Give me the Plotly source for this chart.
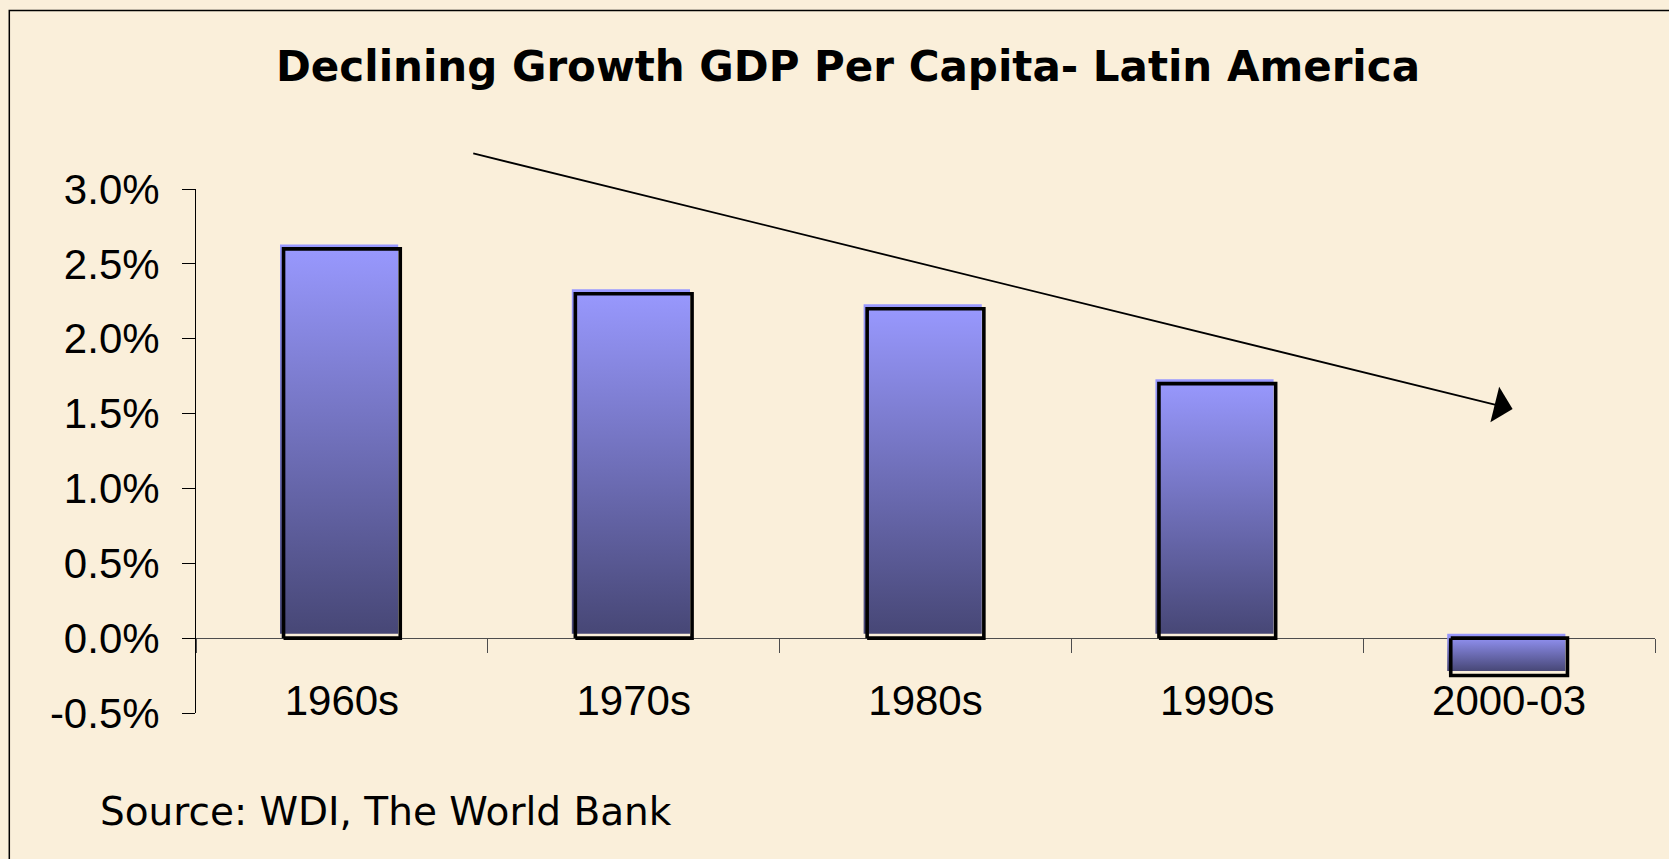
import plotly.graph_objects as go

# Average annual growth of GDP per capita, Latin America (percent)
periods = ["1960s", "1970s", "1980s", "1990s", "2000-03"]
growth = [2.6, 2.3, 2.2, 1.7, -0.25]

y_ticks = [-0.5, 0.0, 0.5, 1.0, 1.5, 2.0, 2.5, 3.0]
y_tick_labels = ["-0.5%", "0.0%", "0.5%", "1.0%", "1.5%", "2.0%", "2.5%", "3.0%"]

W, H = 1669, 859
M_L, M_R, M_T, M_B = 196, 14, 189, 146
Y_MIN, Y_MAX = -0.5, 3.0

BG = "#FAEFDA"
BAR_WIDTH = 0.40        # outline width in category units
FILL_WIDTH = 0.405      # gradient body width
FILL_DX = -0.0096       # gradient body sits slightly up and to the left
FILL_DY = 0.03

fig = go.Figure()

# Gradient bodies of the columns
for i, v in enumerate(growth):
    cx = i + FILL_DX
    x0, x1 = cx - FILL_WIDTH / 2, cx + FILL_WIDTH / 2
    y0, y1 = 0 + FILL_DY, v + FILL_DY
    fig.add_trace(go.Scatter(
        x=[x0, x1, x1, x0, x0],
        y=[y0, y0, y1, y1, y0],
        mode="lines",
        line=dict(width=0),
        fill="toself",
        fillgradient=dict(type="vertical",
                          colorscale=[[0, "#474776"], [1, "#9999FF"]]),
        hoverinfo="skip",
        showlegend=False,
    ))

# Black outlines of the columns, drawn on top of the bodies
ox, oy = [], []
for i, v in enumerate(growth):
    x0, x1 = i - BAR_WIDTH / 2, i + BAR_WIDTH / 2
    ox += [x0, x1, x1, x0, x0, None]
    oy += [0, 0, v, v, 0, None]
fig.add_trace(go.Scatter(
    x=ox, y=oy, mode="lines",
    line=dict(color="black", width=3.6),
    hoverinfo="skip", showlegend=False,
))

fig.update_layout(
    width=W, height=H,
    margin=dict(l=M_L, r=M_R, t=M_T, b=M_B, autoexpand=False),
    paper_bgcolor=BG, plot_bgcolor=BG,
    showlegend=False,
    title=dict(
        text="<b>Declining Growth GDP Per Capita- Latin America</b>",
        font=dict(family="DejaVu Sans", size=42, color="black"),
        x=848 / W, xanchor="center", xref="container",
        y=1 - 66 / H, yanchor="middle", yref="container",
    ),
    xaxis=dict(
        range=[-0.5, len(periods) - 0.5],
        tickmode="array", tickvals=list(range(len(periods))), ticktext=periods,
        ticks="", showgrid=False, zeroline=False,
        showline=True, linecolor="#4d4d4d", linewidth=1,
        anchor="free", position=(0 - Y_MIN) / (Y_MAX - Y_MIN),
        tickfont=dict(family="Liberation Sans", size=42, color="black"),
        ticklabelstandoff=25,
        minor=dict(ticks="outside", tick0=-0.5, dtick=1, ticklen=14,
                   tickwidth=1, tickcolor="#4d4d4d", showgrid=False),
        layer="below traces",
        fixedrange=True,
    ),
    yaxis=dict(
        range=[Y_MIN, Y_MAX],
        tickmode="array", tickvals=y_ticks, ticktext=y_tick_labels,
        ticks="outside", ticklen=13, tickwidth=1, tickcolor="black",
        showline=True, linecolor="black", linewidth=1,
        showgrid=False, zeroline=False,
        tickfont=dict(family="Liberation Sans", size=42, color="black"),
        ticklabelstandoff=14,
        fixedrange=True,
    ),
)

# Downward trend arrow
fig.add_annotation(
    x=4.012, y=1.531, xref="x", yref="y",
    ax=0.445, ay=3.24, axref="x", ayref="y",
    text="", showarrow=True,
    arrowhead=1, arrowsize=3.4, arrowwidth=1.8, arrowcolor="black",
)

# Source note
plot_w = W - M_L - M_R
plot_h = H - M_T - M_B
fig.add_annotation(
    x=(98 - M_L) / plot_w, y=(H - M_B - 811) / plot_h,
    xref="paper", yref="paper", xanchor="left", yanchor="middle",
    text="Source: WDI, The World Bank", showarrow=False,
    font=dict(family="DejaVu Sans", size=39, color="black"),
)

# Slide frame along the left and top edges
fx = (9.3 - M_L) / plot_w
fy = (H - M_B - 10.5) / plot_h
fig.add_shape(
    type="path", xref="paper", yref="paper",
    path=f"M {fx} -0.5 L {fx} {fy} L 1.2 {fy}",
    line=dict(color="black", width=1.5),
)

fig.write_html("out.html")
